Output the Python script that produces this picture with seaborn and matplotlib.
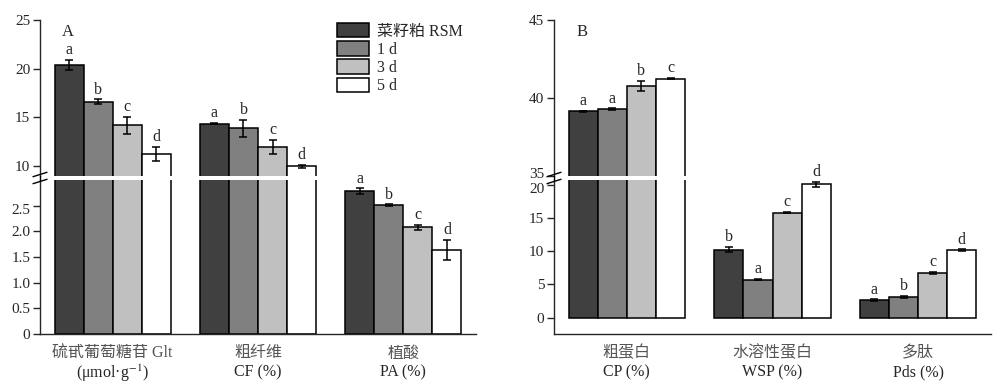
import numpy as np
import pandas as pd
import seaborn as sns
import matplotlib.pyplot as plt
from matplotlib.lines import Line2D
from matplotlib.patches import Patch
from matplotlib.transforms import ScaledTranslation

# ------------------------------------------------------------
# DATA
# ------------------------------------------------------------
groups = ["菜籽粕 RSM", "1 d", "3 d", "5 d"]
colors = ["#404040", "#808080", "#c0c0c0", "#ffffff"]

# panel A
a_items = ["Glt", "CF", "PA"]
a_cn = ["硫甙葡萄糖苷 Glt", "粗纤维", "植酸"]
a_en = ["(μmol·g$^{-1}$)", "CF (%)", "PA (%)"]
a_rsm = [20.4, 14.35, 2.78]
a_1d = [16.6, 13.85, 2.51]
a_3d = [14.15, 11.95, 2.08]
a_5d = [11.2, 9.95, 1.64]
a_rsm_err = [0.5, 0.1, 0.06]
a_1d_err = [0.25, 0.9, 0.015]
a_3d_err = [0.9, 0.72, 0.05]
a_5d_err = [0.72, 0.15, 0.19]
a_rsm_sig = ["a", "a", "a"]
a_1d_sig = ["b", "b", "b"]
a_3d_sig = ["c", "c", "c"]
a_5d_sig = ["d", "d", "d"]

# panel B
b_items = ["CP", "WSP", "Pds"]
b_cn = ["粗蛋白", "水溶性蛋白", "多肽"]
b_en = ["CP (%)", "WSP (%)", "Pds (%)"]
b_rsm = [39.13, 10.25, 2.66]
b_1d = [39.26, 5.7, 3.16]
b_3d = [40.78, 15.8, 6.72]
b_5d = [41.23, 20.05, 10.18]
b_rsm_err = [0.03, 0.4, 0.1]
b_1d_err = [0.05, 0.1, 0.15]
b_3d_err = [0.32, 0.1, 0.2]
b_5d_err = [0.05, 0.4, 0.08]
b_rsm_sig = ["a", "b", "a"]
b_1d_sig = ["a", "a", "b"]
b_3d_sig = ["b", "c", "c"]
b_5d_sig = ["c", "d", "d"]

# ------------------------------------------------------------
# STYLE
# ------------------------------------------------------------
sns.set_style("ticks")
plt.rcParams["font.family"] = ["Liberation Serif", "Noto Sans CJK SC"]
plt.rcParams["mathtext.fontset"] = "stix"
plt.rcParams["font.size"] = 11
plt.rcParams["axes.linewidth"] = 1.0

W, H = 1000, 391
fig = plt.figure(figsize=(10, 3.91), dpi=100)


def fx(px):
    return px / W


def fy(py):
    return 1 - py / H


def shift_label(lab, dy_px):
    lab.set_transform(lab.get_transform() +
                      ScaledTranslation(0, dy_px / 100, fig.dpi_scale_trans))


def draw_panel(x0, x1, items, cn, en, vals, errs, sigs, top_lim, top_ticks,
               bot_lim, bot_ticks, bot_fmt, label):
    ax_t = fig.add_axes([fx(x0), fy(175.5), fx(x1 - x0), fy(20) - fy(175.5)])
    ax_b = fig.add_axes([fx(x0), fy(334), fx(x1 - x0), fy(180) - fy(334)])

    df = pd.DataFrame({
        "item": np.repeat([items], 4, axis=0).ravel(),
        "group": np.repeat(groups, len(items)),
        "value": np.concatenate(vals),
    })

    bars = {}
    for ax in (ax_t, ax_b):
        sns.barplot(data=df, x="item", y="value", hue="group",
                    order=items, hue_order=groups, palette=colors,
                    saturation=1, edgecolor="black", linewidth=1.1,
                    width=0.8, errorbar=None, legend=False, ax=ax)
        bars[ax] = list(ax.containers)
        ax.set_xlim(-0.5, 2.5)
        ax.set_xlabel("")
        ax.set_ylabel("")
        for hi, cont in enumerate(bars[ax]):
            for j, bar in enumerate(cont):
                xc = bar.get_x() + bar.get_width() / 2
                ax.errorbar(xc, vals[hi][j], yerr=errs[hi][j], fmt="none",
                            ecolor="black", elinewidth=1.1, capsize=3.2,
                            capthick=1.1)

    ax_t.set_ylim(*top_lim)
    ax_b.set_ylim(*bot_lim)

    # significance letters
    for hi, cont in enumerate(bars[ax_b]):
        for j, bar in enumerate(cont):
            xc = bar.get_x() + bar.get_width() / 2
            top = vals[hi][j] + errs[hi][j]
            ax = ax_t if top > bot_lim[1] else ax_b
            ax.annotate(sigs[hi][j], (xc, top), xytext=(0, 1.2),
                        textcoords="offset points", ha="center",
                        va="bottom", fontsize=11.5)

    ax_t.set_yticks(top_ticks)
    ax_b.set_yticks(bot_ticks)
    ax_b.set_yticklabels([bot_fmt(t) for t in bot_ticks])
    for ax in (ax_t, ax_b):
        ax.tick_params(axis="y", direction="out", length=5, width=1.0,
                       labelsize=11, pad=2)
        sns.despine(ax=ax)
    ax_t.spines["bottom"].set_visible(False)
    ax_t.set_xticks([])
    ax_b.set_xticks([])

    # tick labels next to the break sit a little apart
    if top_ticks[0] == top_lim[0]:
        shift_label(ax_t.get_yticklabels()[0], 2.5)
    if bot_ticks[-1] > bot_lim[1] - 1.5:
        shift_label(ax_b.get_yticklabels()[-1], -3)

    for j in range(len(items)):
        ax_b.annotate(cn[j], (j, 0), xycoords=ax_b.get_xaxis_transform(),
                      xytext=(0, -14), textcoords="offset points",
                      ha="center", va="center", fontsize=11.5, color="#555555")
        ax_b.annotate(en[j], (j, 0), xycoords=ax_b.get_xaxis_transform(),
                      xytext=(0, -28), textcoords="offset points",
                      ha="center", va="center", fontsize=11.5)

    # continue spine through the gap and break marks
    fig.add_artist(Line2D([fx(x0), fx(x0)], [fy(175.5), fy(180)],
                          transform=fig.transFigure, color="black", lw=1.0))
    for y in (174.5, 181.5):
        fig.add_artist(Line2D([fx(x0 - 7), fx(x0 + 7)], [fy(y + 2.2), fy(y - 2.2)],
                              transform=fig.transFigure, color="black", lw=1.0))

    fig.text(fx(x0 + 28), fy(32), label, ha="center", va="center", fontsize=12)
    return ax_t, ax_b


draw_panel(40, 476, a_items, a_cn, a_en,
           [a_rsm, a_1d, a_3d, a_5d],
           [a_rsm_err, a_1d_err, a_3d_err, a_5d_err],
           [a_rsm_sig, a_1d_sig, a_3d_sig, a_5d_sig],
           (9, 25), [10, 15, 20, 25],
           (0, 3.0), [0, 0.5, 1.0, 1.5, 2.0, 2.5],
           lambda t: "0" if t == 0 else f"{t:.1f}", "A")

draw_panel(554, 991, b_items, b_cn, b_en,
           [b_rsm, b_1d, b_3d, b_5d],
           [b_rsm_err, b_1d_err, b_3d_err, b_5d_err],
           [b_rsm_sig, b_1d_sig, b_3d_sig, b_5d_sig],
           (35, 45), [35, 40, 45],
           (-2.45, 20.7), [0, 5, 10, 15, 20],
           lambda t: f"{t:d}", "B")

handles = [Patch(facecolor=c, edgecolor="black", linewidth=1.1, label=g)
           for g, c in zip(groups, colors)]
fig.legend(handles=handles, loc="upper left", bbox_to_anchor=(fx(337), fy(23)),
           frameon=False, handlelength=2.0, handleheight=1.0, labelspacing=0.1,
           handletextpad=0.5, borderpad=0, borderaxespad=0, fontsize=11.5)

fig.savefig("out.png", dpi=100)
